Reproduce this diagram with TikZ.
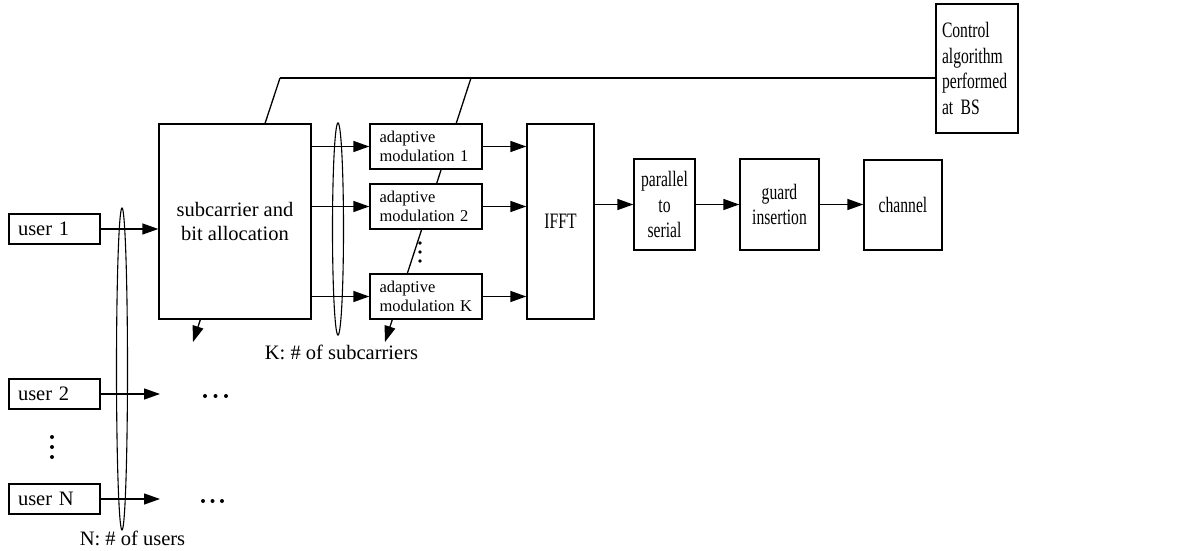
\documentclass[tikz,border=0pt]{standalone}
\usepackage{fontspec}
\setmainfont{Liberation Serif}
\newfontfamily\condfont[FakeStretch=0.71,WordSpace=0.5]{Liberation Serif}
\usetikzlibrary{arrows.meta,shapes.geometric}
\tikzset{
  ln/.style={line width=1.3pt},
  arr/.style={line width=1.3pt,-{Triangle[length=16pt,width=11pt]}},
  box/.style={draw,line width=1.3pt,fill=white,inner sep=0pt,
    font=\fontsize{20.5}{24}\selectfont},
  modbox/.style={draw,line width=1.3pt,fill=white,inner sep=0pt,inner xsep=9.5pt,
    minimum width=112pt,minimum height=45pt,text width=93pt,align=left,
    font=\fontsize{16.5}{18.5}\selectfont},
  rbox/.style={draw,line width=1.3pt,fill=white,inner sep=0pt,align=center,
    font=\condfont\fontsize{22}{25.5}\selectfont},
  ubox/.style={box,minimum width=91pt,minimum height=30pt,inner xsep=9pt,
    text width=73pt,align=left},
  grp/.style={draw,line width=1.1pt,ellipse,inner sep=0pt},
  lbl/.style={font=\fontsize{20.5}{24}\selectfont,inner sep=0pt,anchor=base},
  dot/.style={fill=black}
}
\begin{document}
\begin{tikzpicture}[x=1pt,y=-1pt]
\useasboundingbox (0,0) rectangle (1200,551);
% control diagonals (behind boxes)
\coordinate (t1) at (280,78);
\coordinate (e1) at (193,342);
\coordinate (t2) at (471,78);
\coordinate (e2) at (385,342);
\draw[arr] (t1) -- (e1);
\draw[arr] (t2) -- (e2);
% user boxes
\node[ubox] (u1) at (54.5,229) {user 1};
\node[ubox] (u2) at (54.5,394) {user 2};
\node[ubox] (uN) at (54.5,499) {user N};
% subcarrier allocation
\node[box,minimum width=152pt,minimum height=195pt,align=center] (sub) at (235,221.5)
  {subcarrier and\\bit allocation};
% modulation boxes
\node[modbox] (m1) at (426,146.5) {adaptive\\modulation 1};
\node[modbox] (m2) at (426,206.5) {adaptive\\modulation 2};
\node[modbox] (mK) at (426,296.5) {adaptive\\modulation K};
% right chain
\node[rbox,minimum width=67pt,minimum height=195pt] (ifft) at (560.5,221.5) {IFFT};
\node[rbox,minimum width=61pt,minimum height=91pt] (ps) at (664.5,204.5) {parallel\\to\\serial};
\node[rbox,minimum width=79pt,minimum height=91pt] (gi) at (779.5,204.5) {guard\\insertion};
\node[rbox,minimum width=78pt,minimum height=90pt] (ch) at (903,205) {channel};
\node[rbox,minimum width=82pt,minimum height=129pt,inner xsep=6pt,text width=70pt,align=left] (ctrl) at (977,68.5)
  {Control\\algorithm\\performed\\at BS};
% top control line
\draw[ln] (t1) -- (t1 -| ctrl.west);
% user arrows
\coordinate (d2) at (160,394);
\coordinate (dN) at (160,499);
\draw[arr] (u1.east) -- (u1.east -| sub.west);
\draw[arr] (u2.east) -- (d2);
\draw[arr] (uN.east) -- (dN);
% subcarrier to modulation
\draw[arr] (m1.west -| sub.east) -- (m1.west);
\draw[arr] (m2.west -| sub.east) -- (m2.west);
\draw[arr] (mK.west -| sub.east) -- (mK.west);
% modulation to IFFT
\draw[arr] (m1.east) -- (m1.east -| ifft.west);
\draw[arr] (m2.east) -- (m2.east -| ifft.west);
\draw[arr] (mK.east) -- (mK.east -| ifft.west);
% chain
\draw[arr] (ps.west -| ifft.east) -- (ps.west);
\draw[arr] (ps.east) -- (gi.west);
\draw[arr] (gi.east) -- (gi.east -| ch.west);
% grouping ellipses
\node[grp,minimum width=11pt,minimum height=322pt] (eN) at (122,369) {};
\node[grp,minimum width=11pt,minimum height=212pt] (eK) at (338,229) {};
% labels
\node[lbl] (kl) at (341.5,359) {K: \# of subcarriers};
\node[lbl] (nl) at (132.5,545) {N: \# of users};
% dots
\foreach \x in {205,215.5,226} \fill[dot] (\x,396) circle (2pt);
\foreach \x in {203,212.5,222} \fill[dot] (\x,501) circle (2pt);
\foreach \y in {437,447,457} \fill[dot] (52,\y) circle (2pt);
\foreach \y in {243,252,261} \fill[dot] (420,\y) circle (1.8pt);
\end{tikzpicture}
\end{document}
